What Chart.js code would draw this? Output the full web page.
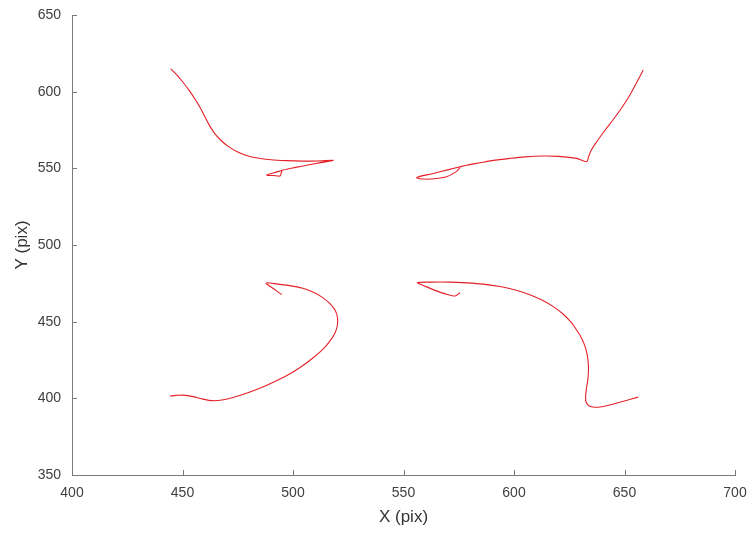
<!DOCTYPE html>
<html>
<head>
<meta charset="utf-8">
<script src="https://cdn.jsdelivr.net/npm/chart.js@4/dist/chart.umd.min.js"></script>
<style>
  html, body { margin: 0; padding: 0; background: #ffffff; }
  #wrap { width: 753px; height: 538px; }
</style>
</head>
<body>
<div id="wrap"><canvas id="c" width="753" height="538"></canvas></div>
<script>
// Tracked paths (pixel coordinates), one per quadrant
const upperLeftX  = [444.7, 447.6, 450.4, 453.0, 455.5, 457.9, 460.0, 462.0, 464.2, 467.0, 470.5, 474.5, 479.0, 484.0, 490.0, 497.0, 504.0, 511.0, 518.2, 512.5, 506.8, 501.2, 495.6, 491.5, 488.1, 491.2, 494.1, 494.6, 495.0];
const upperLeftY  = [614.8, 610.6, 605.8, 600.8, 595.5, 589.8, 584.0, 578.5, 573.5, 568.8, 564.5, 561.0, 558.4, 556.7, 555.6, 555.0, 554.7, 554.8, 555.2, 553.7, 552.2, 550.6, 548.9, 547.1, 545.6, 545.3, 545.0, 546.6, 548.6];

const upperRightX = [658.5, 655.5, 652.5, 649.0, 645.0, 641.0, 637.5, 635.0, 633.8, 632.9, 628.3, 620.0, 613.3, 605.0, 598.2, 590.0, 584.6, 578.6, 575.6, 570.0, 563.0, 556.0, 559.0, 564.0, 569.5, 573.5, 575.6];
const upperRightY = [614.1, 606.0, 598.0, 590.0, 582.0, 574.5, 567.5, 562.0, 558.0, 554.3, 556.5, 557.8, 558.0, 557.5, 556.5, 555.0, 553.6, 552.0, 551.0, 549.0, 546.5, 544.0, 543.0, 543.2, 544.5, 547.5, 550.5];

const lowerLeftX  = [494.9, 491.4, 487.8, 493.2, 498.6, 504.1, 509.0, 513.1, 516.7, 519.0, 520.1, 520.1, 519.0, 516.7, 513.6, 509.0, 503.2, 496.4, 488.2, 480.5, 472.9, 467.9, 463.3, 459.3, 454.8, 450.2, 447.1, 444.3];
const lowerLeftY  = [467.6, 471.3, 475.2, 474.5, 473.5, 471.9, 469.3, 466.0, 461.8, 457.6, 453.0, 447.8, 442.6, 437.3, 432.1, 426.3, 420.1, 414.2, 408.6, 404.1, 400.5, 398.9, 398.5, 399.5, 401.1, 402.1, 401.9, 401.5];

const lowerRightX = [575.6, 573.3, 568.5, 564.3, 560.0, 556.3, 562.0, 571.0, 578.7, 586.0, 593.7, 601.4, 607.7, 613.1, 618.1, 622.2, 625.8, 628.5, 630.8, 632.4, 633.3, 633.7, 633.5, 632.8, 632.4, 632.6, 633.7, 635.7, 638.9, 642.5, 646.6, 651.6, 656.2];
const lowerRightY = [468.9, 466.7, 468.3, 470.4, 473.0, 475.4, 475.8, 475.8, 475.3, 474.5, 472.9, 470.3, 467.3, 463.8, 459.5, 455.0, 449.7, 444.2, 438.6, 432.8, 426.9, 420.4, 413.2, 406.7, 401.5, 397.6, 395.3, 394.3, 394.3, 395.3, 396.9, 398.9, 400.8];

// Axis ranges and tick values
const xTicks = [400, 450, 500, 550, 600, 650, 700];
const yTicks = [350, 400, 450, 500, 550, 600, 650];

const pathColor = 'rgb(228, 32, 40)';
const axisColor = '#7a7a7a';
const textColor = '#404040';

function toPoints(xs, ys) {
  return xs.map((x, i) => ({ x: x, y: ys[i] }));
}

function pathDataset(xs, ys) {
  return {
    data: toPoints(xs, ys),
    showLine: true,
    borderColor: pathColor,
    borderWidth: 1.1,
    pointRadius: 0,
    pointHoverRadius: 0,
    tension: 0.3,
    fill: false
  };
}

// Short tick marks drawn inward from each axis line
const inwardTicks = {
  id: 'inwardTicks',
  afterDraw(chart) {
    const ctx = chart.ctx;
    const xs = chart.scales.x, ys = chart.scales.y;
    const area = chart.chartArea;
    const len = 5;
    ctx.save();
    ctx.strokeStyle = axisColor;
    ctx.lineWidth = 1;
    ctx.beginPath();
    xTicks.forEach(v => {
      const px = Math.round(xs.getPixelForValue(v)) + 0.5;
      ctx.moveTo(px, area.bottom);
      ctx.lineTo(px, area.bottom - len);
    });
    yTicks.forEach(v => {
      const py = Math.round(ys.getPixelForValue(v)) + 0.5;
      ctx.moveTo(area.left, py);
      ctx.lineTo(area.left + len, py);
    });
    ctx.stroke();
    ctx.restore();
  }
};

const tickFont = { family: "'Liberation Sans', Arial, sans-serif", size: 14 };
const titleFont = { family: "'Liberation Sans', Arial, sans-serif", size: 17 };

new Chart(document.getElementById('c'), {
  type: 'scatter',
  data: {
    datasets: [
      pathDataset(upperLeftX, upperLeftY),
      pathDataset(upperRightX, upperRightY),
      pathDataset(lowerLeftX, lowerLeftY),
      pathDataset(lowerRightX, lowerRightY)
    ]
  },
  options: {
    responsive: false,
    animation: false,
    devicePixelRatio: 1,
    layout: { padding: { top: 15, right: 18, left: 0, bottom: 0 } },
    plugins: {
      legend: { display: false },
      tooltip: { enabled: false }
    },
    scales: {
      x: {
        type: 'linear',
        min: xTicks[0],
        max: xTicks[xTicks.length - 1],
        afterBuildTicks(scale) { scale.ticks = xTicks.map(v => ({ value: v })); },
        afterFit(scale) {
          scale.height = 63;
          scale.paddingLeft = 0;
          scale.paddingRight = 0;
        },
        ticks: { color: textColor, font: tickFont, padding: 10, maxRotation: 0, autoSkip: false },
        grid: { drawOnChartArea: false, drawTicks: false },
        border: { display: true, color: axisColor, width: 1 },
        title: { display: true, text: 'X (pix)', color: '#333333', font: titleFont, padding: { top: 0, bottom: 10 } }
      },
      y: {
        type: 'linear',
        min: yTicks[0],
        max: yTicks[yTicks.length - 1],
        afterBuildTicks(scale) { scale.ticks = yTicks.map(v => ({ value: v })); },
        afterFit(scale) {
          scale.width = 72;
          scale.paddingTop = 0;
          scale.paddingBottom = 0;
        },
        ticks: { color: textColor, font: tickFont, padding: 11, autoSkip: false },
        grid: { drawOnChartArea: false, drawTicks: false },
        border: { display: true, color: axisColor, width: 1 },
        title: { display: true, text: 'Y (pix)', color: '#333333', font: titleFont, padding: { top: 12, bottom: 0 } }
      }
    }
  },
  plugins: [inwardTicks]
});
</script>
</body>
</html>
